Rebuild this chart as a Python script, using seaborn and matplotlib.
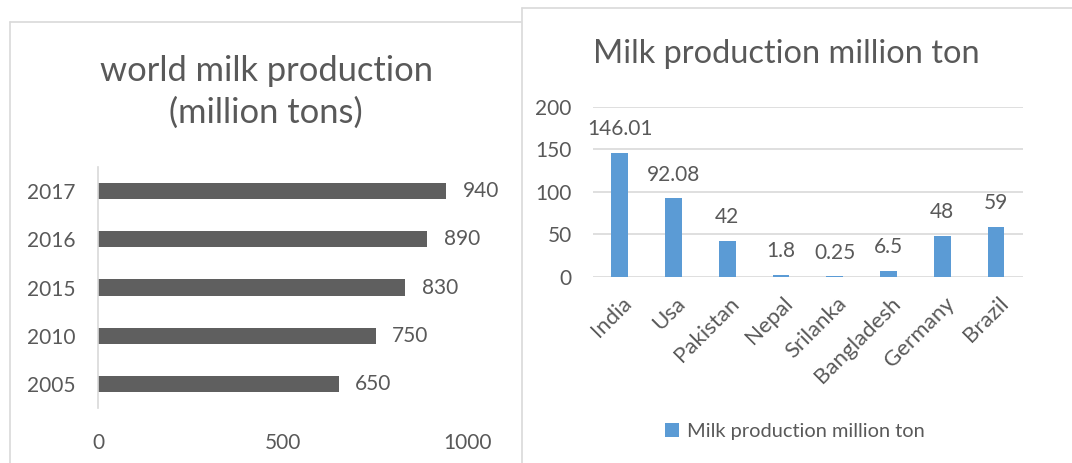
import matplotlib
matplotlib.use("Agg")
import matplotlib.pyplot as plt
from matplotlib.lines import Line2D
from matplotlib.transforms import ScaledTranslation
import seaborn as sns
import pandas as pd

# World milk production by year (million tons)
years = ["2017", "2016", "2015", "2010", "2005"]
world_production = [940, 890, 830, 750, 650]
world_ticks = [0, 500, 1000]

# Milk production by country (million ton)
countries = ["India", "Usa", "Pakistan", "Nepal", "Srilanka", "Bangladesh", "Germany", "Brazil"]
country_production = [146.01, 92.08, 42, 1.8, 0.25, 6.5, 48, 59]
country_ticks = [0, 50, 100, 150, 200]
series_name = "Milk production million ton"

sns.set_theme(style="white")
plt.rcParams["font.family"] = ["Lato", "DejaVu Sans"]

TEXT = "#595959"
GRID = "#D9D9D9"
W, H = 1072, 463
NUM_SIZE = 15

fig = plt.figure(figsize=(W / 100, H / 100), dpi=100)


def fx(px):
    return px / W


def fy(py):
    return 1 - py / H


# Chart-area borders
for xs, ys in [((10, 10), (22, 470)), ((10, 521), (22, 22)),
               ((522, 522), (8, 470)), ((522, 1080), (8, 8))]:
    fig.add_artist(Line2D([fx(x) for x in xs], [fy(y) for y in ys],
                          color=GRID, lw=1.2, transform=fig.transFigure))

# ---- Left: horizontal bars ----
ax1 = fig.add_axes([fx(98), fy(408), fx(468) - fx(98), fy(167) - fy(408)])
df1 = pd.DataFrame({"year": years, "production": world_production})
sns.barplot(data=df1, x="production", y="year", order=years, orient="h",
            color="#5F5F5F", width=0.34, saturation=1, linewidth=0, ax=ax1)
ax1.set_xlim(world_ticks[0], world_ticks[-1])
ax1.set_xticks(world_ticks)
ax1.set_xlabel("")
ax1.set_ylabel("")
for s in ["top", "right", "bottom"]:
    ax1.spines[s].set_visible(False)
ax1.spines["left"].set_color(GRID)
ax1.spines["left"].set_linewidth(1.2)
ax1.tick_params(axis="x", length=0, pad=18, labelsize=NUM_SIZE, labelcolor=TEXT)
ax1.tick_params(axis="y", length=0, pad=16, labelsize=NUM_SIZE, labelcolor=TEXT)
ax1.bar_label(ax1.containers[0], labels=[f"{v:g}" for v in world_production],
              padding=12, fontsize=NUM_SIZE, color=TEXT)

fig.text(fx(266), fy(92), "world milk production\n(million tons)", ha="center",
         va="center", fontsize=24.8, color=TEXT, linespacing=1.34)

# ---- Right: vertical bars ----
ax2 = fig.add_axes([fx(592.7), fy(276.7), fx(1023) - fx(592.7), fy(106.7) - fy(276.7)])
df2 = pd.DataFrame({"country": countries, "production": country_production})
sns.barplot(data=df2, x="country", y="production", order=countries,
            color="#5B9BD5", width=0.31, saturation=1, linewidth=0,
            label=series_name, ax=ax2)
ax2.set_ylim(country_ticks[0], country_ticks[-1])
ax2.set_yticks(country_ticks)
ax2.set_xlabel("")
ax2.set_ylabel("")
ax2.yaxis.grid(True, color=GRID, lw=1.2)
ax2.set_axisbelow(True)
for s in ax2.spines.values():
    s.set_visible(False)
ax2.tick_params(axis="y", length=0, pad=15, labelsize=NUM_SIZE, labelcolor=TEXT)
ax2.tick_params(axis="x", length=0, pad=17, labelsize=16, labelcolor=TEXT)
shift = ScaledTranslation(9 / 100, 0, fig.dpi_scale_trans)
for lab in ax2.get_xticklabels():
    lab.set_rotation(45)
    lab.set_ha("right")
    lab.set_va("center")
    lab.set_rotation_mode("anchor")
    lab.set_transform(lab.get_transform() + shift)
ax2.bar_label(ax2.containers[0], labels=[f"{v:g}" for v in country_production],
              padding=10, fontsize=NUM_SIZE, color=TEXT)

fig.text(fx(786), fy(63.3), "Milk production million ton", ha="center",
         va="baseline", fontsize=23.4, color=TEXT)

leg = ax2.legend(loc="center", bbox_to_anchor=(fx(794.5), fy(431.5)),
                 bbox_transform=fig.transFigure, frameon=False, fontsize=14.4,
                 handlelength=0.7, handleheight=0.7, handletextpad=0.4,
                 borderpad=0)
for t in leg.get_texts():
    t.set_color(TEXT)

fig.savefig("out.png", dpi=100, facecolor="white")
